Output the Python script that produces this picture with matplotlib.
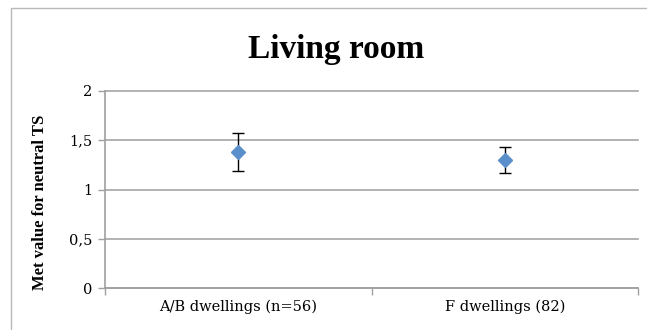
import matplotlib.pyplot as plt
from matplotlib.patches import Rectangle

categories = ["A/B dwellings (n=56)", "F dwellings (82)"]
met_values = [1.38, 1.30]
err_values = [0.19, 0.13]
y_ticks = [0, 0.5, 1, 1.5, 2]
y_tick_labels = ["0", "0,5", "1", "1,5", "2"]

plt.rcParams['font.family'] = ['DejaVu Serif']

fig = plt.figure(figsize=(6.47, 3.30), dpi=100)
# light grey chart border (cut off at right and bottom like the reference)
fig.patches.append(Rectangle((11/647, -0.05), 1.2, 1 - 8/330 + 0.05,
                             transform=fig.transFigure, fill=False,
                             edgecolor='#b8b8b8', linewidth=1.0))

ax = fig.add_axes([105/647, 1 - 288/330, 533/647, 197/330])
xpos = list(range(len(categories)))

ax.errorbar(xpos, met_values, yerr=err_values, fmt='none', ecolor='black',
            elinewidth=1.0, capsize=4, capthick=1.0, zorder=3)
ax.plot(xpos, met_values, linestyle='none', marker='D', markersize=7.5,
        color='#5b8fcb', zorder=4)

ax.set_xlim(-0.5, 1.5)
ax.set_ylim(0, 2)
ax.set_yticks(y_ticks)
ax.set_yticklabels(y_tick_labels, fontsize=10.5)
ax.set_xticks([-0.5, 0.5, 1.5])
ax.set_xticklabels([])
ax.set_xticks(xpos, minor=True)
ax.set_xticklabels(categories, minor=True, fontsize=10.5)
ax.tick_params(axis='x', which='minor', length=0, pad=8)
ax.tick_params(axis='x', which='major', length=5, color='#a0a0a0', width=1)
ax.tick_params(axis='y', length=5, color='#a0a0a0', width=1, pad=4)

ax.grid(axis='y', color='#a6a6a6', linewidth=1.2)
for gl in ax.get_ygridlines():
    gl.set_clip_on(False)
ax.set_axisbelow(True)
for side in ['top', 'right']:
    ax.spines[side].set_visible(False)
for side in ['left', 'bottom']:
    ax.spines[side].set_color('#a0a0a0')
    ax.spines[side].set_linewidth(1.2)

fig.text(40/647, 1 - 202/330, "Met value for neutral TS", rotation=90,
         ha='center', va='center', fontsize=12, fontweight='bold',
         family='Liberation Serif')
fig.text(336/647, 1 - 58/330, "Living room", ha='center', va='baseline',
         fontsize=24, fontweight='bold', family='Liberation Serif')

fig.savefig("out.png", dpi=100)
